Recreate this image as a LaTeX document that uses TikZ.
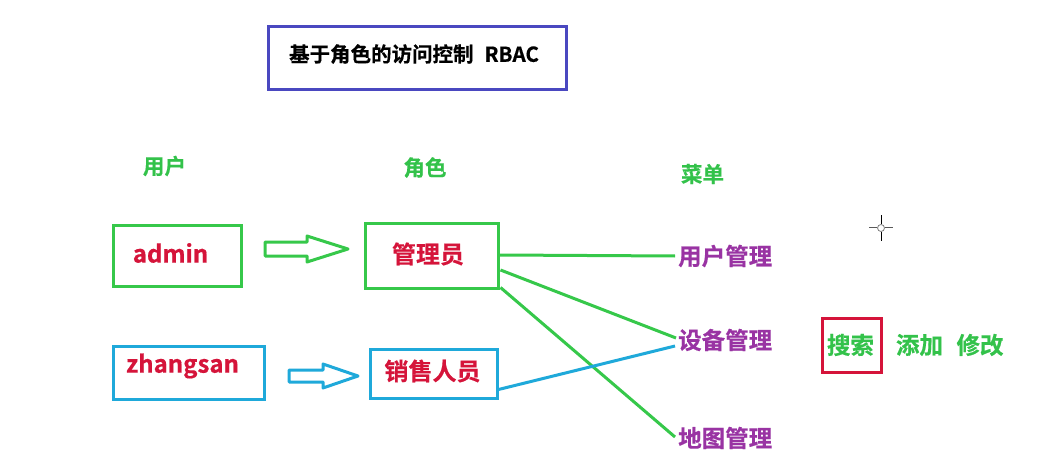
\documentclass[tikz,border=0pt]{standalone}
\usepackage{fontspec}
\setmainfont{Noto Sans CJK SC}[BoldFont={Noto Sans CJK SC Bold},BoldFeatures={FakeBold=0.5}]
\usetikzlibrary{calc}
\definecolor{tgreen}{HTML}{33C24A}
\definecolor{bgreen}{HTML}{36C84A}
\definecolor{tcyan}{HTML}{1FA9DA}
\definecolor{tred}{HTML}{D5143A}
\definecolor{tpurple}{HTML}{9933A3}
\definecolor{tblue}{HTML}{4A48C0}
\tikzset{
  gbox/.style={draw=bgreen,line width=3pt,inner sep=0pt},
  cbox/.style={draw=tcyan,line width=3pt,inner sep=0pt},
  lbl/.style={font=\bfseries\fontsize{21.5}{24}\selectfont,text=tgreen,inner sep=0pt},
  redtxt/.style={font=\bfseries\fontsize{24}{27}\selectfont,text=tred,inner sep=0pt},
  menu/.style={font=\bfseries\fontsize{23.5}{27}\selectfont,text=tpurple,inner sep=0pt,anchor=west},
  act/.style={font=\bfseries\fontsize{23.5}{27}\selectfont,text=tgreen,inner sep=0pt},
  gline/.style={draw=bgreen,line width=3pt},
  cline/.style={draw=tcyan,line width=3pt},
}
\begin{document}
\begin{tikzpicture}[x=1pt,y=-1pt]
\useasboundingbox (0,0) rectangle (1044,457);
\fill[white] (0,0) rectangle (1044,457);
% title
\node[draw=tblue,line width=3pt,minimum width=298pt,minimum height=63pt,inner sep=0pt] (title) at (417.5,58) {};
\node[font=\bfseries\fontsize{20.5}{24}\selectfont,inner sep=0pt] (titletxt) at (414,54) {基于角色的访问控制\hspace{11pt}RBAC};
% headers
\node[lbl] (huser) at (164.5,166) {用户};
\node[lbl] (hrole) at (425,167.5) {角色};
\node[lbl] (hmenu) at (702.5,174) {菜单};
% users
\node[gbox,minimum width=128pt,minimum height=60pt] (admin) at (177,256) {};
\node[redtxt] (admintxt) at (170.5,253) {admin};
\node[cbox,minimum width=151pt,minimum height=53pt] (zs) at (188.5,372.5) {};
\node[redtxt] (zstxt) at (182.5,366) {zhangsan};
% roles
\node[gbox,minimum width=133pt,minimum height=64pt] (r1) at (431.5,256) {};
\node[redtxt] (r1txt) at (428,254) {管理员};
\node[cbox,minimum width=127pt,minimum height=49pt] (r2) at (433.5,373.5) {};
\node[redtxt] (r2txt) at (432.5,371) {销售人员};
% hollow arrows
\draw[draw=bgreen,line width=3pt,line join=round] (265,242) -- (307,242) -- (307,236) -- (348,249) -- (307,262) -- (307,256) -- (265,256) -- cycle;
\draw[draw=tcyan,line width=3pt,line join=round] (289,370) -- (323,370) -- (323,364) -- (358,376) -- (323,388) -- (323,382) -- (289,382) -- cycle;
% menus
\node[menu] (m1) at (678,256) {用户管理};
\node[menu] (m2) at (678,340) {设备管理};
\node[menu] (m3) at (678,438) {地图管理};
% connectors
\coordinate (r1a) at ([yshift=1pt]r1.east);
\coordinate (r1b) at ([yshift=-14pt,xshift=1pt]r1.east);
\coordinate (r1c) at ([yshift=2pt,xshift=1pt]r1.south east);
\coordinate (r2a) at ([yshift=10pt]r2.south east);
\draw[gline] (r1a) -- ([xshift=-3pt]m1.west);
\draw[gline] (r1b) -- ([xshift=-2pt,yshift=2pt]m2.west);
\draw[gline] (r1c) -- ([xshift=-3pt,yshift=1pt]m3.west);
\draw[cline] (r2a) -- ([xshift=-3pt,yshift=-6pt]m2.west);
% actions
\node[draw=tred,line width=3pt,minimum width=59pt,minimum height=54pt,inner sep=0pt] (search) at (851.5,345) {};
\node[act] (searchtxt) at (850.5,345) {搜索};
\node[act] (add) at (919.5,345) {添加};
\node[act] (edit) at (980,345) {修改};
% cursor
\node[draw=gray,line width=0.8pt,circle,minimum size=7pt,inner sep=0pt] (cur) at (881,228) {};
\draw[gray!70!black,line width=1pt] (cur.west) -- ++(-8,0);
\draw[gray!70!black,line width=1pt] (cur.east) -- ++(8,0);
\draw[black,line width=1pt] (cur.north) -- ++(0,-9);
\draw[black,line width=1pt] (cur.south) -- ++(0,9);
\end{tikzpicture}
\end{document}
